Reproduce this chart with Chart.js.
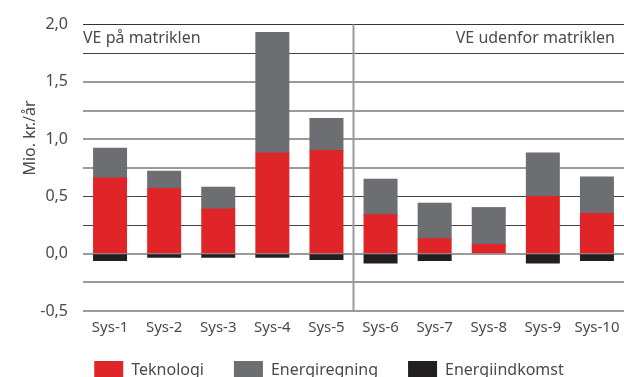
<!DOCTYPE html>
<html>
<head>
<meta charset="utf-8">
<script src="https://cdn.jsdelivr.net/npm/chart.js@4.4.1/dist/chart.umd.min.js"></script>
<style>
  html, body { margin: 0; padding: 0; background: #fff; }
  #wrap { width: 624px; height: 377px; position: relative; }
</style>
</head>
<body>
<div id="wrap"><canvas id="myChart"></canvas></div>
<script>
const categories = ['Sys-1', 'Sys-2', 'Sys-3', 'Sys-4', 'Sys-5', 'Sys-6', 'Sys-7', 'Sys-8', 'Sys-9', 'Sys-10'];
const teknologi = [0.66, 0.57, 0.39, 0.88, 0.90, 0.34, 0.13, 0.08, 0.50, 0.35];
const energiregning = [0.26, 0.15, 0.19, 1.05, 0.28, 0.31, 0.31, 0.32, 0.38, 0.32];
const energiindkomst = [-0.06, -0.03, -0.03, -0.03, -0.05, -0.08, -0.06, 0, -0.08, -0.06];
const groupLabels = ['VE på matriklen', 'VE udenfor matriklen'];
const yTitle = 'Mio. kr./år';

const colors = ['#e02528', '#6d6e71', '#231f20'];
const textColor = '#4a4a4a';
const fontFamily = '"Noto Sans", sans-serif';

// divider between the two groups plus the group headings and the y title
const groupDivider = {
    id: 'groupDivider',
    beforeDatasetsDraw(chart) {
        const {ctx, chartArea: {top, bottom, left, right}, scales: {x}} = chart;
        const mid = (x.getPixelForTick(4) + x.getPixelForTick(5)) / 2;

        ctx.save();
        ctx.strokeStyle = '#9a9a9a';
        ctx.lineWidth = 2;
        ctx.beginPath();
        ctx.moveTo(mid, top);
        ctx.lineTo(mid, bottom);
        ctx.stroke();

        ctx.fillStyle = textColor;
        ctx.font = '16px ' + fontFamily;
        ctx.textBaseline = 'middle';
        ctx.textAlign = 'left';
        ctx.fillText(groupLabels[0], left, top + 14);
        ctx.textAlign = 'right';
        ctx.fillText(groupLabels[1], right - 9, top + 14);

        ctx.translate(30, 138);
        ctx.rotate(-Math.PI / 2);
        ctx.textAlign = 'center';
        ctx.fillText(yTitle, 0, 0);
        ctx.restore();
    }
};

// nudge the legend row so it sits lower and a bit to the right
const legendOffset = {
    id: 'legendOffset',
    afterLayout(chart) {
        const lg = chart.legend;
        lg.left += 17; lg.right += 17;
        lg.top -= 6; lg.bottom -= 6;
    }
};

const datasets = [
    {label: 'Teknologi', data: teknologi, backgroundColor: colors[0]},
    {label: 'Energiregning', data: energiregning, backgroundColor: colors[1]},
    {label: 'Energiindkomst', data: energiindkomst, backgroundColor: colors[2]}
].map(ds => ({...ds, barPercentage: 0.61, categoryPercentage: 1, borderWidth: 0, inflateAmount: 0.5}));

const darkLines = [2, 1.75, 0.5, 0.25];

new Chart(document.getElementById('myChart'), {
    type: 'bar',
    data: {labels: categories, datasets},
    options: {
        responsive: true,
        maintainAspectRatio: false,
        animation: false,
        layout: {padding: {top: 11, right: 0, bottom: -18, left: 0}},
        scales: {
            x: {
                stacked: true,
                grid: {display: false},
                border: {display: false},
                ticks: {color: textColor, font: {family: fontFamily, size: 15}, padding: 0, maxRotation: 0, autoSkip: false}
            },
            y: {
                stacked: true,
                min: -0.5,
                max: 2,
                afterFit(scale) { scale.width = 83; },
                border: {display: false},
                grid: {
                    drawTicks: false,
                    lineWidth: c => darkLines.includes(c.tick.value) ? 1 : 2,
                    color: c => c.tick.value === 2 ? '#333' : (darkLines.includes(c.tick.value) ? '#444' : '#9a9a9a')
                },
                ticks: {
                    stepSize: 0.25,
                    padding: 15,
                    color: textColor,
                    font: {family: fontFamily, size: 16},
                    callback: v => (Math.abs(v * 2 - Math.round(v * 2)) < 1e-6) ? v.toFixed(1).replace('.', ',') : ''
                }
            }
        },
        plugins: {
            legend: {
                position: 'bottom',
                labels: {
                    boxWidth: 29,
                    boxHeight: 18,
                    padding: 30,
                    color: textColor,
                    font: {family: fontFamily, size: 16}
                }
            },
            tooltip: {enabled: false}
        }
    },
    plugins: [groupDivider, legendOffset]
});
</script>
</body>
</html>
